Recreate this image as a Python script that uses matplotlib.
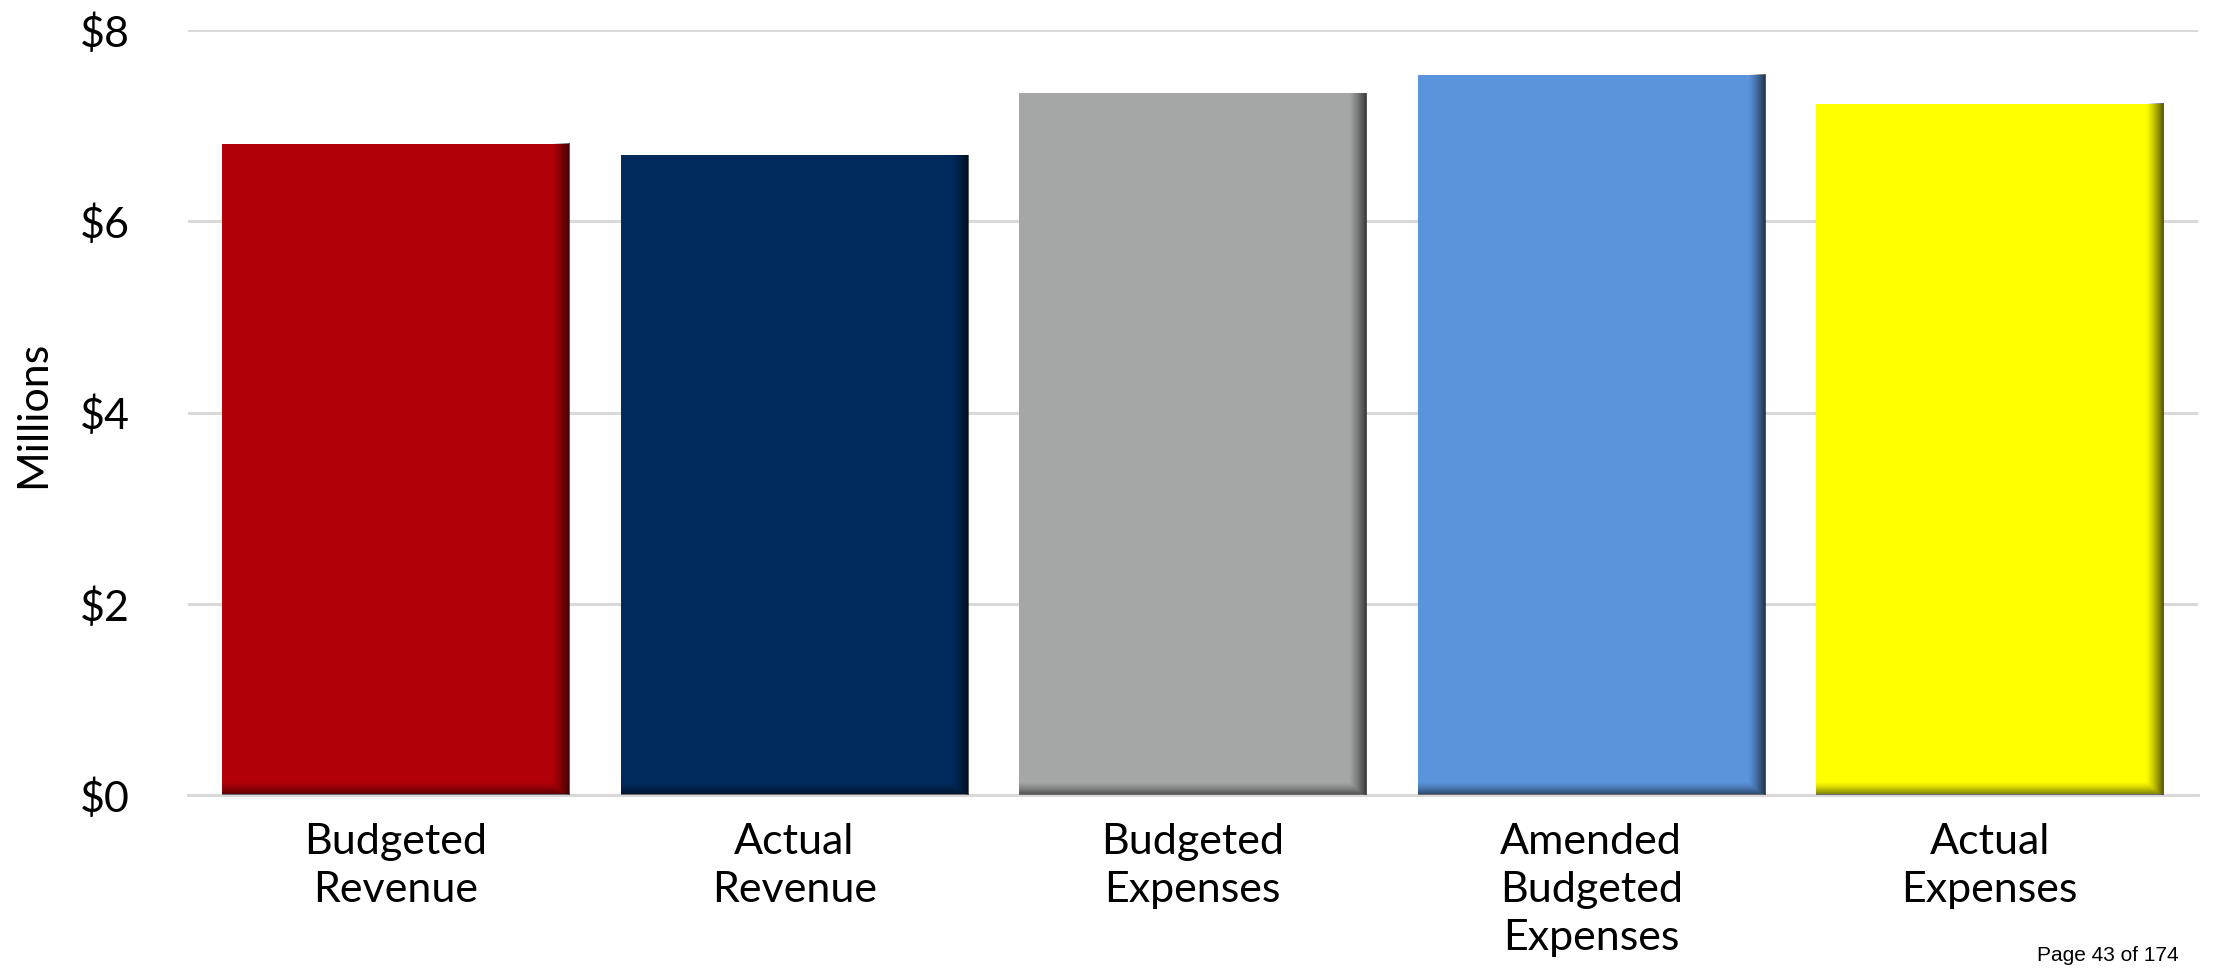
import matplotlib
matplotlib.use("Agg")
import matplotlib.pyplot as plt
import numpy as np

# budget summary, in millions of dollars
categories = ["Budgeted\nRevenue", "Actual\nRevenue", "Budgeted\nExpenses",
              "Amended\nBudgeted\nExpenses", "Actual\nExpenses"]
amounts = [6.81, 6.69, 7.34, 7.53, 7.23]
bar_colors = ["#B20008", "#002A5C", "#A5A7A6", "#5A94DC", "#FFFF00"]
y_ticks = [0, 2, 4, 6, 8]
y_tick_labels = ["$0", "$2", "$4", "$6", "$8"]

plt.rcParams['font.family'] = ['Lato', 'DejaVu Sans']

fig = plt.figure(figsize=(22.13, 9.68), dpi=100)
ax = fig.add_axes([0.085, 0.1787, 0.9083, 0.7903])

bar_width = 0.871
x = np.arange(len(categories))
ax.bar(x, amounts, width=bar_width, color=bar_colors, zorder=2)


def shade_bar(ax, xc, height, width):
    """Dark gradient along the right and bottom edges of a bar."""
    nx, ny = 200, 400
    u = np.linspace(0, 1, nx)
    v = np.linspace(0, 1, ny)
    edge_x = 0.05
    edge_y = 0.13 / height
    ax_r = np.clip((u - (1 - edge_x)) / edge_x, 0, 1) ** 1.3 * 0.65
    ax_b = np.clip((edge_y - v) / edge_y, 0, 1) ** 1.3 * 0.5
    alpha = np.maximum(ax_r[None, :], ax_b[:, None])
    rgba = np.zeros((ny, nx, 4))
    rgba[..., 3] = alpha
    ax.imshow(rgba, extent=(xc - width / 2, xc + width / 2, 0, height),
              origin="lower", aspect="auto", interpolation="bilinear", zorder=3)


for xi, h in zip(x, amounts):
    shade_bar(ax, xi, h, bar_width)

ax.set_xlim(-0.521, 4.523)
ax.set_ylim(0, 8)
ax.set_yticks(y_ticks)
ax.set_yticklabels(y_tick_labels, fontsize=31)
ax.set_xticks(x)
ax.set_xticklabels(categories, fontsize=31, linespacing=1.33)
ax.tick_params(axis="both", length=0)
ax.tick_params(axis="y", pad=42)
ax.tick_params(axis="x", pad=20)

fig.text(33 / 2213, 1 - 414 / 968, "Millions", fontsize=31, rotation=90,
         ha="center", va="center")

ax.grid(axis="y", color="#D9D9D9", linewidth=2.2, zorder=0)
ax.set_axisbelow(True)
for side in ["top", "right", "left"]:
    ax.spines[side].set_visible(False)
ax.spines["bottom"].set_color("#D9D9D9")
ax.spines["bottom"].set_linewidth(2.2)

fig.text(0.9205, 1 - 946 / 968, "Page 43 of 174", fontsize=15,
         family="Liberation Sans", ha="left", va="top")

fig.savefig("out.png", dpi=100)
